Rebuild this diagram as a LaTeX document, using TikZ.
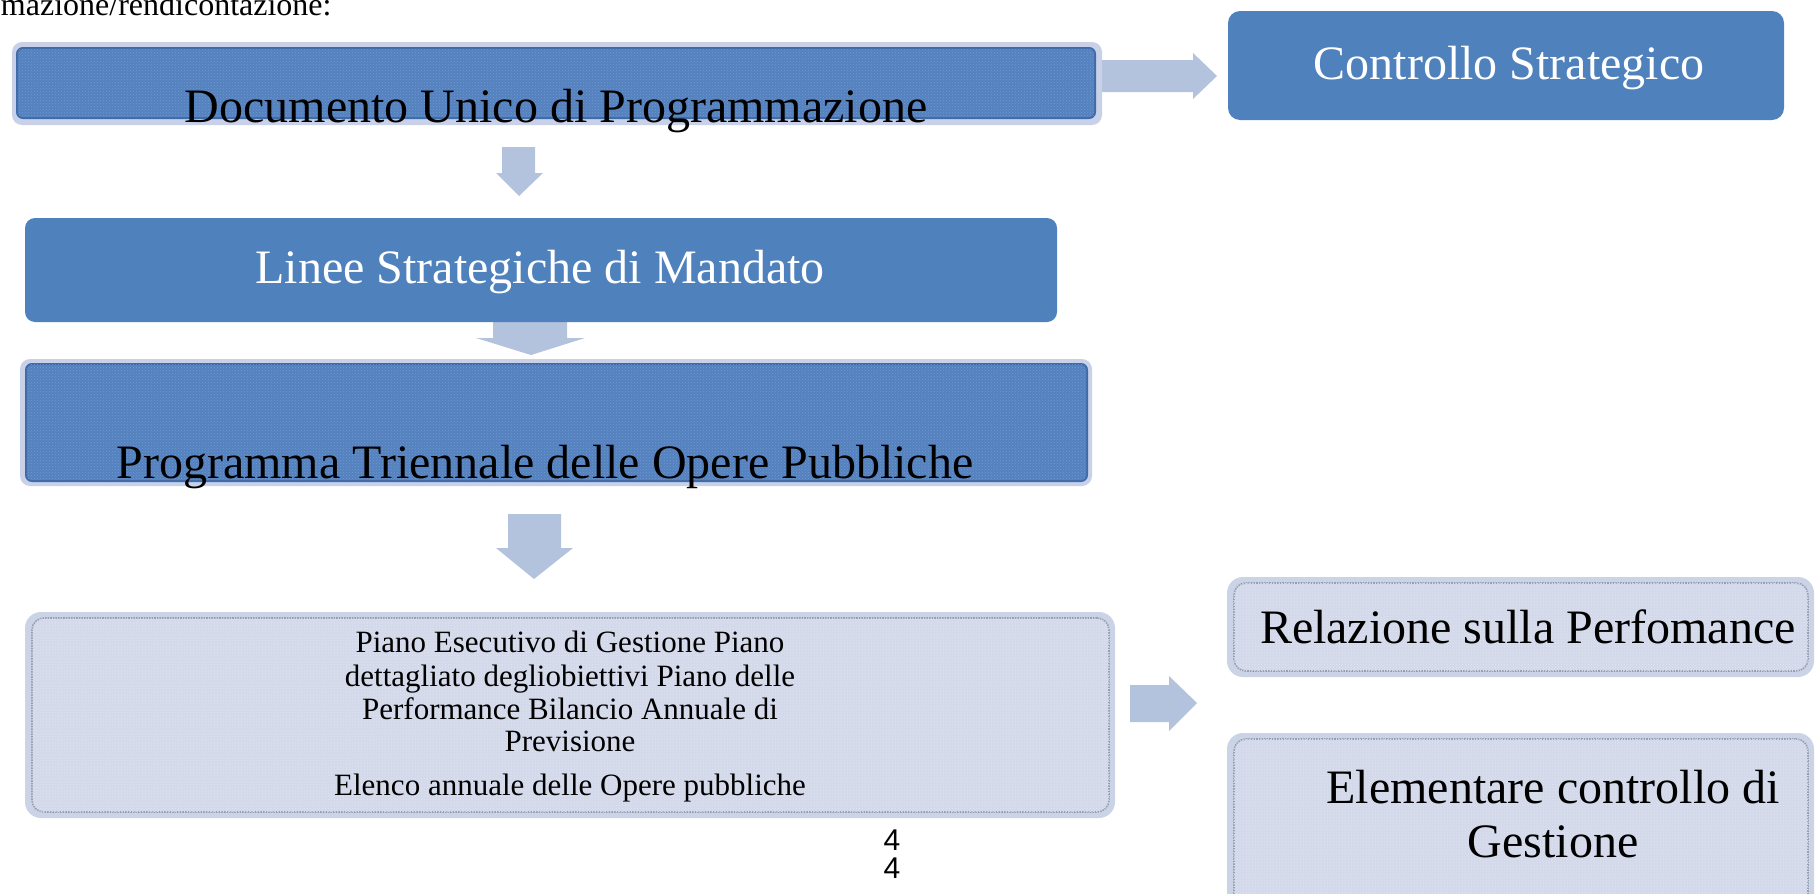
\documentclass[tikz,border=0pt]{standalone}
\usepackage{fontspec}
\setmainfont{Liberation Serif}
\newfontfamily\numfont{Liberation Sans}
\usetikzlibrary{patterns}
\definecolor{boxblue}{RGB}{79,129,189}
\definecolor{texblue}{RGB}{84,130,191}
\definecolor{texdot}{RGB}{112,152,206}
\definecolor{texedge}{RGB}{62,106,168}
\definecolor{rimlight}{RGB}{200,209,231}
\definecolor{arrowc}{RGB}{179,194,221}
\definecolor{palefill}{RGB}{211,217,234}
\definecolor{paledot}{RGB}{224,229,241}
\definecolor{paleedge}{RGB}{203,211,231}
\definecolor{dotgray}{RGB}{150,158,176}
\begin{document}
\begin{tikzpicture}[x=1pt,y=-1pt,
  every node/.style={inner sep=0pt, outer sep=0pt},
  boxbase/.style={anchor=north west, rounded corners=#1},
  boxbase/.default=10pt,
  solidbox/.style={boxbase=12pt, fill=boxblue, draw=none},
  rimbox/.style={boxbase=10pt, fill=rimlight, draw=none},
  texbox/.style={boxbase=6pt, fill=texblue, draw=texedge, line width=2pt,
    postaction={pattern=crosshatch dots, pattern color=texdot}},
  palerim/.style={boxbase=16pt, fill=paleedge, draw=none},
  palebox/.style={boxbase=12pt, fill=palefill, draw=dotgray, densely dotted, line width=1.6pt,
    postaction={pattern=crosshatch dots, pattern color=paledot}},
  bigtext/.style={anchor=base, font=\fontsize{48}{55}\selectfont},
  smalltext/.style={anchor=base, font=\fontsize{31}{35}\selectfont},
  blockarrow/.style={fill=arrowc, draw=none}
]
\path[use as bounding box] (0,0) rectangle (1816,894);
\clip (0,0) rectangle (1816,894);

% heading fragment
\node[anchor=base west, font=\fontsize{32}{38}\selectfont] (head) at (1,16) {mazione/rendicontazione:};

% block arrows (drawn first, boxes cover their tails)
\fill[blockarrow] (1093,60) -- (1193,60) -- (1193,53) -- (1217,76) -- (1193,99) -- (1193,92) -- (1093,92) -- cycle;
\fill[blockarrow] (502,147) -- (535,147) -- (535,173) -- (543,173) -- (519,196) -- (496,173) -- (502,173) -- cycle;
\fill[blockarrow] (493,320) -- (567,320) -- (567,338) -- (585,338) -- (531,355) -- (476,338) -- (493,338) -- cycle;
\fill[blockarrow] (508,514) -- (561,514) -- (561,548) -- (573,548) -- (534,579) -- (496,548) -- (508,548) -- cycle;
\fill[blockarrow] (1130,685) -- (1169,685) -- (1169,676) -- (1197,703) -- (1169,731) -- (1169,722) -- (1130,722) -- cycle;

% Documento Unico di Programmazione
\node[rimbox, minimum width=1090pt, minimum height=83pt] (docrim) at (12,42) {};
\node[texbox, minimum width=1078pt, minimum height=70pt] (doc) at (17,48) {};
\node[bigtext] (doctext) at (556,122) {Documento Unico di Programmazione};

% Controllo Strategico
\node[solidbox, minimum width=556pt, minimum height=109pt] (ctrl) at (1228,11) {};
\node[bigtext, text=white] (ctrltext) at (1509,79) {Controllo Strategico};

% Linee Strategiche di Mandato
\node[solidbox, boxbase=10pt, minimum width=1032pt, minimum height=104pt] (linee) at (25,218) {};
\node[bigtext, text=white] (lineetext) at (540,283) {Linee Strategiche di Mandato};

% Programma Triennale
\node[rimbox, minimum width=1072pt, minimum height=127pt] (progrim) at (20,359) {};
\node[texbox, minimum width=1061pt, minimum height=117pt] (prog) at (26,364) {};
\node[bigtext] (progtext) at (545,478) {Programma Triennale delle Opere Pubbliche};

% Piano Esecutivo di Gestione
\node[palerim, minimum width=1090pt, minimum height=206pt] (pianorim) at (25,612) {};
\node[palebox, minimum width=1077pt, minimum height=194pt] (piano) at (32,618) {};
\node[smalltext] (p1) at (570,652) {Piano Esecutivo di Gestione Piano};
\node[smalltext] (p2) at (570,686) {dettagliato degliobiettivi Piano delle};
\node[smalltext] (p3) at (570,719) {Performance Bilancio Annuale di};
\node[smalltext] (p4) at (570,751) {Previsione};
\node[smalltext] (p5) at (570,795) {Elenco annuale delle Opere pubbliche};

% Relazione sulla Perfomance
\node[palerim, minimum width=587pt, minimum height=100pt] (relrim) at (1227,577) {};
\node[palebox, minimum width=574pt, minimum height=88pt] (rel) at (1234,583) {};
\node[bigtext, anchor=base west] (reltext) at (1260,643) {Relazione sulla Perfomance};

% Elementare controllo di Gestione
\node[palerim, minimum width=587pt, minimum height=190pt] (elerim) at (1227,733) {};
\node[palebox, minimum width=574pt, minimum height=178pt] (ele) at (1234,739) {};
\node[bigtext] (eletext1) at (1553,803) {Elementare controllo di};
\node[bigtext] (eletext2) at (1553,857) {Gestione};

% page number
\node[anchor=base, font=\numfont\fontsize{30}{34}\selectfont] (pg1) at (892,850) {4};
\node[anchor=base, font=\numfont\fontsize{30}{34}\selectfont] (pg2) at (892,878) {4};
\end{tikzpicture}
\end{document}
